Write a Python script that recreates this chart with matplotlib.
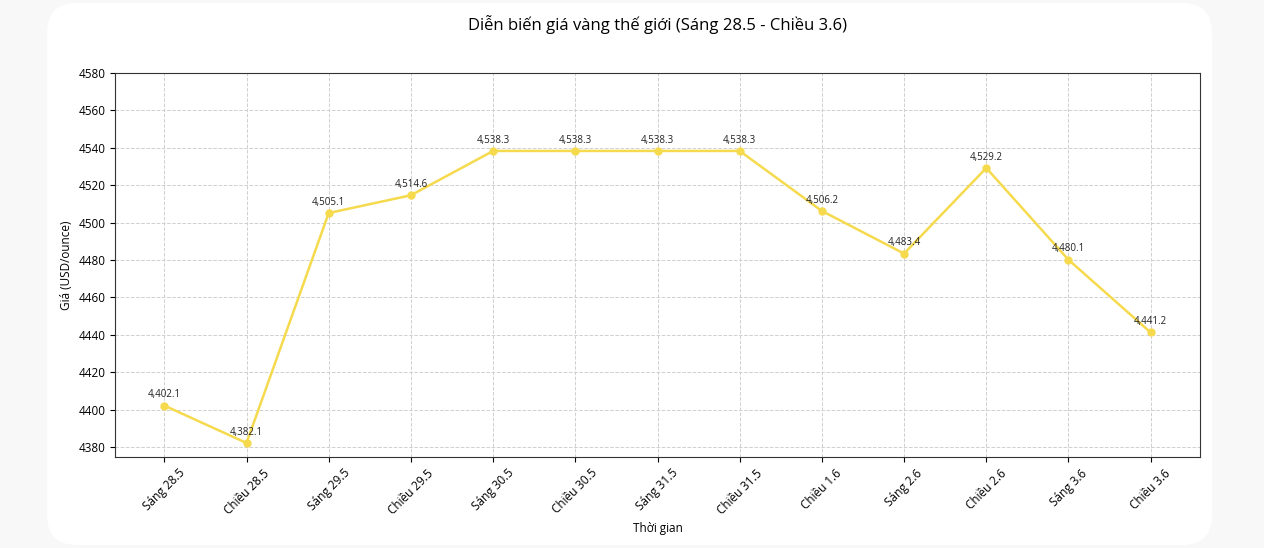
import matplotlib
matplotlib.use("Agg")
import matplotlib.pyplot as plt
from matplotlib.patches import FancyBboxPatch

labels = ["Sáng 28.5", "Chiều 28.5", "Sáng 29.5", "Chiều 29.5", "Sáng 30.5",
          "Chiều 30.5", "Sáng 31.5", "Chiều 31.5", "Chiều 1.6", "Sáng 2.6",
          "Chiều 2.6", "Sáng 3.6", "Chiều 3.6"]
prices = [4402.1, 4382.1, 4505.1, 4514.6, 4538.3, 4538.3, 4538.3, 4538.3,
          4506.2, 4483.4, 4529.2, 4480.1, 4441.2]

plt.rcParams["font.family"] = ["Open Sans", "DejaVu Sans"]

fig = plt.figure(figsize=(12.64, 5.48), dpi=100)
fig.patch.set_facecolor("#f9f8f9")

# white rounded card (in inches)
card = FancyBboxPatch((0.47, 0.03), 11.65, 5.42,
                      boxstyle="round,pad=0,rounding_size=0.3",
                      transform=fig.dpi_scale_trans, facecolor="white",
                      edgecolor="none", zorder=-1)
fig.patches.append(card)

ax = fig.add_axes([115 / 1264, 1 - 457 / 548, 1085 / 1264, 384 / 548])
ax.set_facecolor("white")

x = list(range(len(labels)))
ax.plot(x, prices, color="#F6DA4E", linewidth=1.8, marker="o", markersize=5)

for xi, p in zip(x, prices):
    ax.annotate(f"{p:,.1f}", (xi, p), textcoords="offset points", xytext=(0, 6),
                ha="center", fontsize=7, color="#222222")

ax.set_xlim(-0.6, 12.6)
ax.set_ylim(4374.6, 4580)
ax.set_yticks(range(4380, 4581, 20))
ax.set_xticks(x)
ax.set_xticklabels(labels, rotation=45, fontsize=8.5)
ax.tick_params(axis="y", labelsize=8.5)
ax.grid(True, linestyle="--", color="#d0d0d0", linewidth=0.7)
ax.set_axisbelow(True)
for s in ax.spines.values():
    s.set_color("#333333")
    s.set_linewidth(0.8)

ax.set_xlabel("Thời gian", fontsize=8.5)
ax.set_ylabel("Giá (USD/ounce)", fontsize=8.5)
fig.text(658 / 1264, 1 - 25 / 548, "Diễn biến giá vàng thế giới (Sáng 28.5 - Chiều 3.6)",
         ha="center", va="center", fontsize=12)

fig.savefig("out.png", dpi=100, facecolor=fig.get_facecolor())
